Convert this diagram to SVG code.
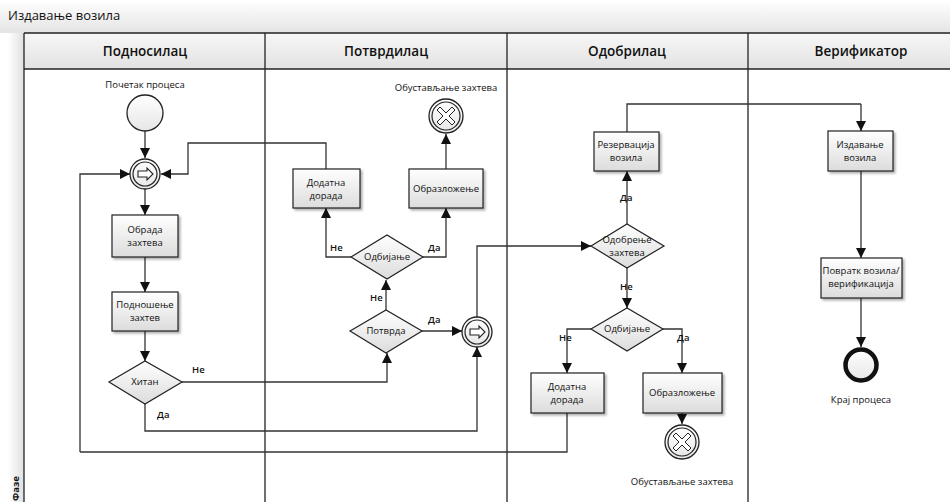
<svg xmlns="http://www.w3.org/2000/svg" width="950" height="502" viewBox="0 0 950 502">
<defs>
<linearGradient id="gHead" x1="0" y1="0" x2="0" y2="1"><stop offset="0" stop-color="#ffffff"/><stop offset="1" stop-color="#e4e4e4"/></linearGradient>
<linearGradient id="gLane" x1="0" y1="0" x2="0" y2="1"><stop offset="0" stop-color="#f7f7f7"/><stop offset="1" stop-color="#e2e2e2"/></linearGradient>
<linearGradient id="gStrip" x1="0" y1="0" x2="1" y2="0"><stop offset="0" stop-color="#ffffff"/><stop offset="1" stop-color="#e0e0e0"/></linearGradient>
<linearGradient id="gBox" x1="0" y1="0" x2="0" y2="1"><stop offset="0" stop-color="#ffffff"/><stop offset="1" stop-color="#dcdcdc"/></linearGradient>
<linearGradient id="gCirc" x1="0" y1="0" x2="0" y2="1"><stop offset="0" stop-color="#ffffff"/><stop offset="1" stop-color="#e6e6e6"/></linearGradient>
<marker id="arr" viewBox="0 0 10 10" refX="10" refY="5" markerWidth="10" markerHeight="10" markerUnits="userSpaceOnUse" orient="auto"><path d="M0,0 L10,5 L0,10 z" fill="#111"/></marker>
<filter id="sh" x="-10%" y="-10%" width="130%" height="130%"><feDropShadow dx="2" dy="2" stdDeviation="1" flood-color="#000" flood-opacity="0.3"/></filter>
</defs>
<style>
text{font-family:"Open Sans","Noto Sans","DejaVu Sans",sans-serif;fill:#111}
.t{font-size:9.5px}
.lbl{font-size:9.5px;font-weight:600}
.hd{font-size:13.5px;font-weight:600}
.ttl{font-size:13px;font-weight:500}
.box{fill:url(#gBox);stroke:#222;stroke-width:1.2;filter:url(#sh)}
.dia{fill:url(#gBox);stroke:#222;stroke-width:1.2}
.ln{fill:none;stroke:#222;stroke-width:1.3}
.cn{fill:none;stroke:#333;stroke-width:1.3;marker-end:url(#arr)}
.cn0{fill:none;stroke:#333;stroke-width:1.3}
.ev{fill:url(#gCirc);stroke:#222;stroke-width:1.3}
</style>
<rect x="0" y="0" width="950" height="502" fill="#fff"/>
<rect x="0" y="0" width="950" height="33" fill="url(#gHead)"/>
<text class="ttl" x="8" y="20">Издавање возила</text>
<rect x="8" y="33" width="16" height="469" fill="url(#gStrip)"/>
<rect x="24" y="33" width="926" height="36" fill="url(#gLane)"/>
<g id="lanes">
<line class="ln" x1="24" y1="33" x2="950" y2="33"/>
<line class="ln" x1="24" y1="69" x2="950" y2="69"/>
<line class="ln" x1="24" y1="33" x2="24" y2="502"/>
<line class="ln" x1="265" y1="33" x2="265" y2="502"/>
<line class="ln" x1="507" y1="33" x2="507" y2="502"/>
<line class="ln" x1="748" y1="33" x2="748" y2="502"/>
<text class="hd" x="145" y="56" text-anchor="middle">Подносилац</text>
<text class="hd" x="386" y="56" text-anchor="middle">Потврдилац</text>
<text class="hd" x="627" y="56" text-anchor="middle">Одобрилац</text>
<text class="hd" x="861" y="56" text-anchor="middle">Верификатор</text>
<text class="t" font-weight="700" transform="translate(19,501) rotate(-90)">Фазе</text>
</g>
<g id="connectors">
<path class="cn" d="M145,131 V158"/>
<path class="cn" d="M80,452 V174 H130"/>
<path class="cn" d="M326,169 V143 H188 V174 H161"/>
<path class="cn" d="M145,189 V215"/>
<path class="cn" d="M145,257 V292"/>
<path class="cn" d="M145,331 V361"/>
<path class="cn" d="M182,382 H387 V353"/>
<path class="cn" d="M145,404 V431 H477 V347"/>
<path class="cn" d="M422,331 H462"/>
<path class="cn" d="M386,310 V280"/>
<path class="cn" d="M351,257 H326 V208"/>
<path class="cn" d="M423,257 H446 V208"/>
<path class="cn" d="M446,169 V134"/>
<path class="cn" d="M477,317 V246 H591"/>
<path class="cn" d="M627,224 V171"/>
<path class="cn0" d="M627,132 V104 H861"/>
<path class="cn" d="M861,104 V131"/>
<path class="cn" d="M861,171 V258"/>
<path class="cn" d="M861,298 V347"/>
<path class="cn" d="M627,268 V308"/>
<path class="cn" d="M591,329 H567 V373"/>
<path class="cn" d="M663,329 H682 V373"/>
<path class="cn" d="M682,413 V424"/>
<path class="cn0" d="M567,413 V452 H80"/>
<text class="lbl" x="192" y="373">Не</text>
<text class="lbl" x="157" y="418">Да</text>
<text class="lbl" x="370" y="301">Не</text>
<text class="lbl" x="428" y="323">Да</text>
<text class="lbl" x="330" y="251">Не</text>
<text class="lbl" x="428" y="251">Да</text>
<text class="lbl" x="620" y="201">Да</text>
<text class="lbl" x="620" y="290">Не</text>
<text class="lbl" x="559" y="341">Не</text>
<text class="lbl" x="677" y="341">Да</text>
</g>
<g id="start">
<text class="t" x="145" y="88" text-anchor="middle">Почетак процеса</text>
<circle class="ev" cx="145" cy="113" r="18"/>
</g>
<g id="gw1">
<circle class="ev" cx="145" cy="174" r="15"/>
<circle cx="145" cy="174" r="12" fill="none" stroke="#222" stroke-width="1.2"/>
<path d="M138,171 H147 V168 L153,174 L147,180 V177 H138 z" fill="#fff" stroke="#222" stroke-width="1.1"/>
</g>
<g id="obrada">
<rect class="box" x="112" y="215" width="66" height="42"/>
<text class="t" x="145" y="233" text-anchor="middle">Обрада</text>
<text class="t" x="145" y="246" text-anchor="middle">захтева</text>
</g>
<g id="podnosenje">
<rect class="box" x="112" y="292" width="66" height="39"/>
<text class="t" x="145" y="308" text-anchor="middle">Подношење</text>
<text class="t" x="145" y="321" text-anchor="middle">захтев</text>
</g>
<g id="hitan">
<polygon class="dia" points="109,382 145,361 182,382 145,404"/>
<text class="t" x="145" y="385" text-anchor="middle">Хитан</text>
</g>
<g id="dorada1">
<rect class="box" x="293" y="169" width="67" height="39"/>
<text class="t" x="326" y="186" text-anchor="middle">Додатна</text>
<text class="t" x="326" y="199" text-anchor="middle">дорада</text>
</g>
<g id="obrazlozenje1">
<rect class="box" x="409" y="169" width="74" height="39"/>
<text class="t" x="446" y="192" text-anchor="middle">Образложење</text>
</g>
<g id="end1">
<text class="t" x="446" y="91" text-anchor="middle">Обустављање захтева</text>
<circle class="ev" cx="446" cy="116" r="17"/>
<circle cx="446" cy="116" r="14" fill="none" stroke="#222" stroke-width="1.2"/>
<path d="M440,107 L446,113 L452,107 L455,110 L449,116 L455,122 L452,125 L446,119 L440,125 L437,122 L443,116 L437,110 z" fill="#fff" stroke="#222" stroke-width="1"/>
</g>
<g id="odbijanje1">
<polygon class="dia" points="351,257 387,235 423,257 387,279"/>
<text class="t" x="387" y="260" text-anchor="middle">Одбијање</text>
</g>
<g id="potvrda">
<polygon class="dia" points="350,331 386,310 422,331 386,353"/>
<text class="t" x="386" y="334" text-anchor="middle">Потврда</text>
</g>
<g id="gw2">
<circle class="ev" cx="477" cy="332" r="15"/>
<circle cx="477" cy="332" r="12" fill="none" stroke="#222" stroke-width="1.2"/>
<path d="M470,329 H479 V326 L485,332 L479,338 V335 H470 z" fill="#fff" stroke="#222" stroke-width="1.1"/>
</g>
<g id="odobrenje">
<polygon class="dia" points="591,246 627,224 664,246 627,268"/>
<text class="t" x="627" y="243" text-anchor="middle">Одобрење</text>
<text class="t" x="627" y="256" text-anchor="middle">захтева</text>
</g>
<g id="rezervacija">
<rect class="box" x="594" y="132" width="65" height="39"/>
<text class="t" x="626" y="148" text-anchor="middle">Резервација</text>
<text class="t" x="626" y="161" text-anchor="middle">возила</text>
</g>
<g id="odbijanje2">
<polygon class="dia" points="591,329 627,308 663,329 627,351"/>
<text class="t" x="627" y="332" text-anchor="middle">Одбијање</text>
</g>
<g id="dorada2">
<rect class="box" x="531" y="373" width="73" height="40"/>
<text class="t" x="567" y="390" text-anchor="middle">Додатна</text>
<text class="t" x="567" y="403" text-anchor="middle">дорада</text>
</g>
<g id="obrazlozenje2">
<rect class="box" x="643" y="373" width="79" height="40"/>
<text class="t" x="682" y="396" text-anchor="middle">Образложење</text>
</g>
<g id="end2">
<circle class="ev" cx="682" cy="442" r="17"/>
<circle cx="682" cy="442" r="14" fill="none" stroke="#222" stroke-width="1.2"/>
<path d="M676,433 L682,439 L688,433 L691,436 L685,442 L691,448 L688,451 L682,445 L676,451 L673,448 L679,442 L673,436 z" fill="#fff" stroke="#222" stroke-width="1"/>
<text class="t" x="682" y="485" text-anchor="middle">Обустављање захтева</text>
</g>
<g id="izdavanje">
<rect class="box" x="828" y="131" width="65" height="40"/>
<text class="t" x="860" y="148" text-anchor="middle">Издавање</text>
<text class="t" x="860" y="161" text-anchor="middle">возила</text>
</g>
<g id="povratak">
<rect class="box" x="821" y="258" width="81" height="40"/>
<text class="t" x="861" y="274" text-anchor="middle">Повратк возила/</text>
<text class="t" x="861" y="287" text-anchor="middle">верификација</text>
</g>
<g id="end3">
<circle cx="861" cy="365" r="15.5" fill="url(#gCirc)" stroke="#111" stroke-width="4.5"/>
<text class="t" x="861" y="403" text-anchor="middle">Крај процеса</text>
</g>
</svg>
